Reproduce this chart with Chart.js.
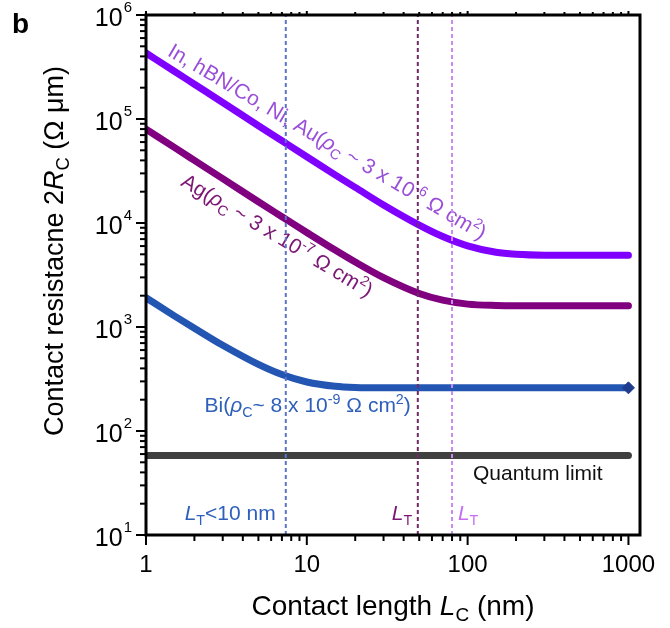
<!DOCTYPE html>
<html>
<head>
<meta charset="utf-8">
<title>Contact resistance vs contact length</title>
<script src="https://cdn.jsdelivr.net/npm/chart.js@4.4.0/dist/chart.umd.min.js"></script>
<style>
  html, body { margin: 0; padding: 0; background: #fff; }
  canvas { display: block; }
</style>
</head>
<body>
<canvas id="rcChart" width="670" height="628"></canvas>
<script>
// contact length (nm) and 2Rc (ohm um) for each contact metal
const lengths = [1, 1.5, 2, 3, 5, 7, 10, 15, 20, 30, 50, 70, 100, 150, 200, 300, 500, 1000];
const rcInAu = [431000, 288000, 216000, 144000, 86200, 61700, 43300, 29000, 22000, 14900, 9540, 7410, 6030, 5230, 5010, 4910, 4900, 4900];
const rcAg = [80000, 53300, 40000, 26700, 16000, 11500, 8110, 5490, 4210, 2980, 2100, 1810, 1660, 1610, 1600, 1600, 1600, 1600];
const rcBi = [1910, 1280, 973, 667, 437, 349, 296, 269, 262, 260, 260, 260, 260, 260, 260, 260, 260, 260];
const quantumLimit = 58;
const quantumRange = [1, 1000];

// transfer lengths marked with dashed lines
const ltBi = 7.4;
const ltAg = 49;
const ltInAu = 80;

// axis ticks
const xMajor = [1, 10, 100, 1000];
const xLabels = ['1', '10', '100', '1000'];
const yMajor = [10, 100, 1000, 10000, 100000, 1000000];
const yExp = ['1', '2', '3', '4', '5', '6'];
const minorSteps = [2, 3, 4, 5, 6, 7, 8, 9];

const FONT = '"Liberation Sans", Arial, Helvetica, sans-serif';

const toPoints = (xs, ys) => xs.map((x, i) => ({ x: x, y: ys[i] }));
const vline = (x) => [{ x: x, y: 10 }, { x: x, y: 1000000 }];

// text made of runs: [text, kind] with kind '', 'i', 'sub', 'sup'
function runFont(kind, size) {
  const small = kind === 'sub' || kind === 'sup';
  const s = small ? size * 0.68 : size;
  return (kind === 'i' ? 'italic ' : '') + s.toFixed(1) + 'px ' + FONT;
}
function runsWidth(ctx, runs, size) {
  let w = 0;
  runs.forEach(r => { ctx.font = runFont(r[1], size); w += ctx.measureText(r[0]).width; });
  return w;
}
function drawRuns(ctx, runs, x, y, o) {
  const size = o.size;
  ctx.save();
  ctx.translate(x, y);
  ctx.rotate((o.angle || 0) * Math.PI / 180);
  ctx.fillStyle = o.color || '#000';
  ctx.textBaseline = 'alphabetic';
  ctx.textAlign = 'left';
  let cx = 0;
  if (o.align === 'center') cx = -runsWidth(ctx, runs, size) / 2;
  if (o.align === 'right') cx = -runsWidth(ctx, runs, size);
  runs.forEach(r => {
    ctx.font = runFont(r[1], size);
    let dy = 0;
    if (r[1] === 'sub') dy = size * 0.22;
    if (r[1] === 'sup') dy = -size * 0.4;
    ctx.fillText(r[0], cx, dy);
    cx += ctx.measureText(r[0]).width;
  });
  ctx.restore();
}

// annotations placed in data coordinates
const notes = [
  { x: 1.34, y: 412000, angle: 30.5, color: '#9a4fd8',
    runs: [['In, hBN/Co, Ni, Au(', ''], ['ρ', 'i'], ['C', 'sub'], [' ~ 3 x 10', ''], ['-6', 'sup'], [' Ω cm', ''], ['2', 'sup'], [')', '']] },
  { x: 1.62, y: 23200, angle: 31, color: '#7b1675',
    runs: [['Ag(', ''], ['ρ', 'i'], ['C', 'sub'], [' ~ 3 x 10', ''], ['-7', 'sup'], [' Ω cm', ''], ['2', 'sup'], [')', '']] },
  { x: 2.31, y: 152, angle: 0, color: '#2d5fbb',
    runs: [['Bi(', ''], ['ρ', 'i'], ['C', 'sub'], ['~ 8 x 10', ''], ['-9', 'sup'], [' Ω cm', ''], ['2', 'sup'], [')', '']] },
  { x: 108, y: 33.8, angle: 0, color: '#111',
    runs: [['Quantum limit', '']] },
  { x: 1.74, y: 13.9, angle: 0, color: '#2d5fbb',
    runs: [['L', 'i'], ['T', 'sub'], ['<10 nm', '']] },
  { x: 33.8, y: 13.9, angle: 0, color: '#7b1675',
    runs: [['L', 'i'], ['T', 'sub']] },
  { x: 87, y: 13.9, angle: 0, color: '#c46ef0',
    runs: [['L', 'i'], ['T', 'sub']] }
];

const notesPlugin = {
  id: 'notes',
  beforeDatasetsDraw(chart) {
    const ctx = chart.ctx, xs = chart.scales.x, ys = chart.scales.y;
    notes.forEach(n => {
      drawRuns(ctx, n.runs, xs.getPixelForValue(n.x), ys.getPixelForValue(n.y),
        { size: 21, angle: n.angle, color: n.color });
    });
  }
};

// boxed frame, outward ticks and the axis text
const framePlugin = {
  id: 'frame',
  afterDraw(chart) {
    const ctx = chart.ctx, a = chart.chartArea;
    const xs = chart.scales.x, ys = chart.scales.y;
    ctx.save();
    ctx.strokeStyle = '#000';
    ctx.lineWidth = 2;
    const tick = (x1, y1, x2, y2) => { ctx.beginPath(); ctx.moveTo(x1, y1); ctx.lineTo(x2, y2); ctx.stroke(); };

    xMajor.forEach((v, i) => {
      const px = xs.getPixelForValue(v);
      tick(px, a.bottom, px, a.bottom + 10);
      tick(px, a.top, px, a.top - 4);
      if (i < xMajor.length - 1) {
        minorSteps.forEach(m => {
          const mx = xs.getPixelForValue(v * m);
          tick(mx, a.bottom, mx, a.bottom + 6);
          tick(mx, a.top, mx, a.top - 3);
        });
      }
    });
    yMajor.forEach((v, i) => {
      const py = ys.getPixelForValue(v);
      tick(a.left, py, a.left - 10, py);
      if (i < yMajor.length - 1) {
        minorSteps.forEach(m => {
          const my = ys.getPixelForValue(v * m);
          tick(a.left, my, a.left - 6, my);
        });
      }
    });

    ctx.lineWidth = 3;
    ctx.strokeRect(a.left, a.top, a.right - a.left, a.bottom - a.top);

    // x tick labels
    ctx.fillStyle = '#000';
    ctx.textAlign = 'center';
    ctx.textBaseline = 'alphabetic';
    ctx.font = '24px ' + FONT;
    xMajor.forEach((v, i) => ctx.fillText(xLabels[i], xs.getPixelForValue(v), a.bottom + 37));

    // y tick labels as powers of ten
    yMajor.forEach((v, i) => {
      const py = ys.getPixelForValue(v);
      ctx.font = '15px ' + FONT;
      const we = ctx.measureText(yExp[i]).width;
      ctx.textAlign = 'right';
      ctx.fillText(yExp[i], a.left - 14, py - 3);
      ctx.font = '25px ' + FONT;
      ctx.fillText('10', a.left - 15 - we, py + 11);
    });

    // axis titles
    drawRuns(ctx, [['Contact length ', ''], ['L', 'i'], ['C', 'sub'], [' (nm)', '']],
      (a.left + a.right) / 2 + 0, 615, { size: 28, align: 'center' });
    drawRuns(ctx, [['Contact resistacne 2', ''], ['R', 'i'], ['C', 'sub'], [' (Ω μm)', '']],
      63, 251, { size: 27, angle: -90, align: 'center' });

    // panel letter
    ctx.textAlign = 'left';
    ctx.font = 'bold 28px ' + FONT;
    ctx.fillText('b', 12, 33);
    ctx.restore();
  }
};

const lineDefaults = { fill: false, pointRadius: 0, borderCapStyle: 'round', borderJoinStyle: 'round', clip: 0 };

new Chart(document.getElementById('rcChart'), {
  type: 'line',
  data: {
    datasets: [
      Object.assign({ label: 'LT Bi', data: vline(ltBi), borderColor: '#5a74c7', borderWidth: 2, borderDash: [4, 3], order: 0 }, lineDefaults, { borderCapStyle: 'butt' }),
      Object.assign({ label: 'LT Ag', data: vline(ltAg), borderColor: '#6e2b66', borderWidth: 2, borderDash: [4, 3], order: 0 }, lineDefaults, { borderCapStyle: 'butt' }),
      Object.assign({ label: 'LT In/Au', data: vline(ltInAu), borderColor: '#c98af2', borderWidth: 2, borderDash: [4, 3], order: 0 }, lineDefaults, { borderCapStyle: 'butt' }),
      Object.assign({ label: 'In, hBN/Co, Ni, Au', data: toPoints(lengths, rcInAu), borderColor: '#8000ff', borderWidth: 7, cubicInterpolationMode: 'monotone', order: 1 }, lineDefaults),
      Object.assign({ label: 'Ag', data: toPoints(lengths, rcAg), borderColor: '#800080', borderWidth: 7, cubicInterpolationMode: 'monotone', order: 2 }, lineDefaults),
      Object.assign({ label: 'Bi', data: toPoints(lengths, rcBi), borderColor: '#2356b3', borderWidth: 7, cubicInterpolationMode: 'monotone', order: 3 }, lineDefaults, {
        pointStyle: 'rectRot',
        pointRadius: (c) => c.dataIndex === lengths.length - 1 ? 6 : 0,
        pointBackgroundColor: '#1f3d8c',
        pointBorderColor: '#1f3d8c',
        pointBorderWidth: 1
      }),
      Object.assign({ label: 'Quantum limit', data: toPoints(quantumRange, [quantumLimit, quantumLimit]), borderColor: '#404040', borderWidth: 7, order: 4 }, lineDefaults)
    ]
  },
  options: {
    responsive: false,
    animation: false,
    events: [],
    layout: { padding: { left: 146, right: 30, top: 15, bottom: 93 } },
    plugins: { legend: { display: false }, tooltip: { enabled: false } },
    scales: {
      x: { type: 'logarithmic', min: 1, max: 1180, display: false },
      y: { type: 'logarithmic', min: 10, max: 1000000, display: false }
    }
  },
  plugins: [notesPlugin, framePlugin]
});
</script>
</body>
</html>
